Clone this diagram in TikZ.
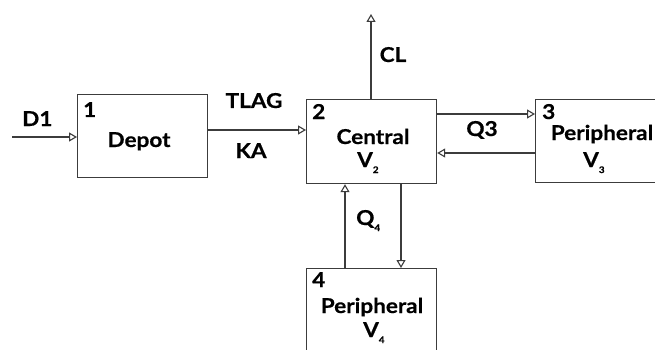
\documentclass[tikz,border=0pt]{standalone}
\usepackage{fontspec}
\setmainfont{Lato}[BoldFeatures={FakeStretch=1.1,FakeBold=0.6}]
\usetikzlibrary{arrows.meta}
\definecolor{lc}{HTML}{3C3C3C}
\newcommand{\sbs}[1]{\raisebox{-6pt}{\fontsize{9}{9}\selectfont #1}}
\begin{document}
\begin{tikzpicture}[x=1pt,y=-1pt,
  font=\bfseries\fontsize{20.5}{24}\selectfont,
  box/.style={draw=lc, line width=1.2pt, inner sep=0pt, anchor=north west},
  arr/.style={draw=lc, line width=1.1pt, -{Triangle[open,length=8pt,width=9pt]}},
  lbl/.style={inner sep=0pt, anchor=base},
  num/.style={inner sep=0pt, anchor=base west}]
\useasboundingbox (0,0) rectangle (655,350);
\clip (0,0) rectangle (655,350);
\fill[white] (0,0) rectangle (655,350);
% boxes
\node[box, minimum width=130pt, minimum height=83pt] (dep) at (77,94) {};
\node[box, minimum width=130pt, minimum height=84pt] (cen) at (306,99) {};
\node[box, minimum width=200pt, minimum height=83pt] (p3) at (535,99) {};
\node[box, minimum width=130pt, minimum height=120pt] (p4) at (306,268) {};
% connector coordinates
\coordinate (d1) at (12,137);
\coordinate (a) at (0,130);
\coordinate (cl) at (371,14);
\coordinate (q3) at (0,114);
\coordinate (r3) at (0,153);
\coordinate (u4) at (345,0);
\coordinate (d4) at (401,0);
% connectors
\draw[arr] (d1) -- (dep.west |- d1);
\draw[arr] (dep.east |- a) -- (cen.west |- a);
\draw[arr] (cen.north -| cl) -- (cl);
\draw[arr] (cen.east |- q3) -- (p3.west |- q3);
\draw[arr] (p3.west |- r3) -- (cen.east |- r3);
\draw[arr] (p4.north -| u4) -- (cen.south -| u4);
\draw[arr] (cen.south -| d4) -- (p4.north -| d4);
% labels
\node[num] (tD1) at (22,126) {D1};
\node[num] (n1) at (83,117) {1};
\node[lbl] (tdep) at (139,147) {Depot};
\node[lbl] (ttlag) at (254,108) {TLAG};
\node[lbl] (tka) at (251,158) {KA};
\node[lbl] (tcl) at (393,62) {CL};
\node[num] (n2) at (312,119) {2};
\node[lbl] (tcen) at (373,144) {Central};
\node[num] (tv2) at (357,167) {V\sbs{2}};
\node[lbl] (tq3) at (482,136) {Q3};
\node[num] (n3) at (542,119) {3};
\node[lbl] (tp3) at (602,140) {Peripheral};
\node[num] (tv3) at (583,167) {V\sbs{3}};
\node[num] (n4) at (312,287) {4};
\node[lbl] (tp4) at (372,313) {Peripheral};
\node[num] (tv4) at (363,337) {V\sbs{4}};
\node[num] (tq4) at (356,225) {Q\sbs{4}};
\end{tikzpicture}
\end{document}
